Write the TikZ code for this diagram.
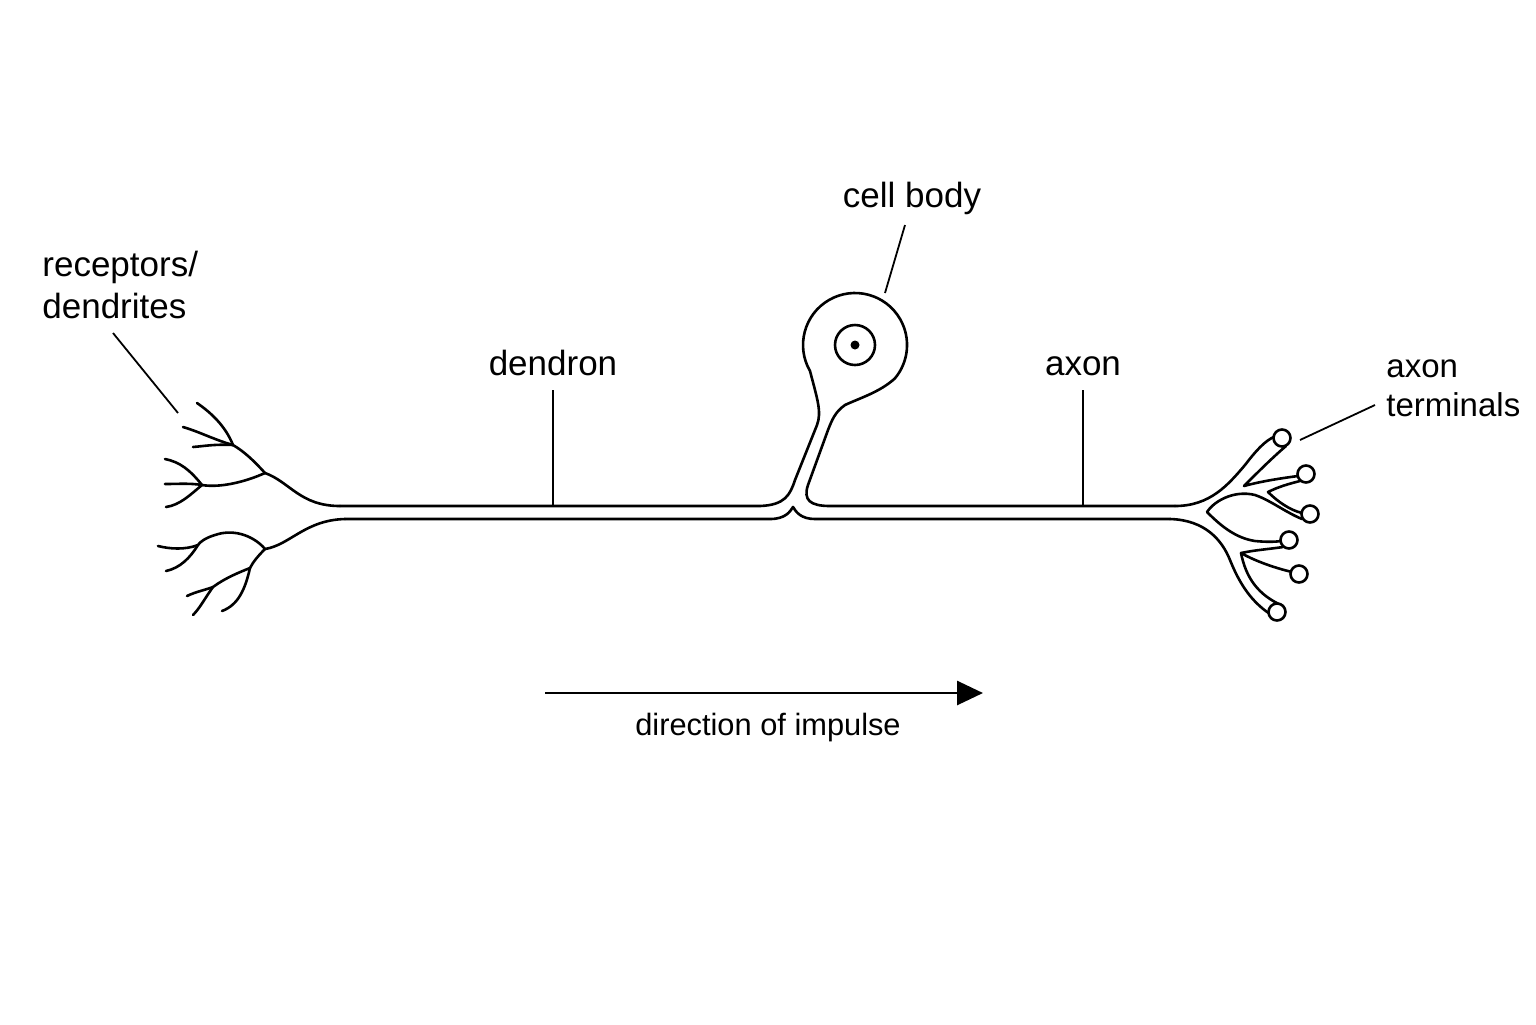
\documentclass[tikz,border=0pt]{standalone}
\usepackage{fontspec}
\setmainfont{Liberation Sans}
\usetikzlibrary{arrows.meta}
\begin{document}
\begin{tikzpicture}[x=0.5pt,y=-0.5pt,
  nv/.style={line width=1.3pt,line cap=round,line join=round},
  ptr/.style={line width=0.9pt},
  lab/.style={font=\fontsize{17.5}{21}\selectfont,align=left,inner sep=0pt},
  term/.style={circle,draw,line width=1.3pt,fill=white,minimum size=8.5pt,inner sep=0pt}]
\useasboundingbox (0,0) rectangle (1536,1024);
% cell body and upper contour
\draw[nv] (340,506) -- (760,506) .. controls (785,505) and (790,495) .. (795,480)
  -- (817,425) .. controls (822,412) and (817,398) .. (810,371)
  arc[start angle=150,end angle=400,radius=52]
  .. controls (880,392) and (860,398) .. (845,405) .. controls (835,412) and (832,420) .. (828,430)
  -- (808,485) .. controls (803,500) and (810,506) .. (830,506) -- (1175,506);
\draw[nv] (855,345) circle[radius=20];
\fill (855,345) circle[radius=4.5];
% lower contour
\draw[nv] (345,519) -- (770,519) .. controls (785,519) and (790,512) .. (793,507)
  .. controls (796,512) and (801,519) .. (815,519) -- (1170,519);
% left dendrites
\draw[nv] (340,506) .. controls (300,506) and (290,482) .. (265,473);
\draw[nv] (265,473) .. controls (255,462) and (245,452) .. (233,445) .. controls (225,425) and (210,412) .. (197,403);
\draw[nv] (233,445) .. controls (215,440) and (200,432) .. (183,427);
\draw[nv] (233,445) .. controls (215,444) and (205,446) .. (193,447);
\draw[nv] (265,473) .. controls (245,482) and (220,488) .. (202,485);
\draw[nv] (202,485) .. controls (190,470) and (180,462) .. (165,459);
\draw[nv] (202,485) .. controls (190,483) and (178,484) .. (165,484);
\draw[nv] (202,485) .. controls (190,495) and (180,505) .. (166,507);
\draw[nv] (345,519) .. controls (305,520) and (290,545) .. (265,549);
\draw[nv] (265,549) .. controls (255,537) and (235,528) .. (215,535) .. controls (205,538) and (200,542) .. (198,545);
\draw[nv] (198,545) .. controls (185,550) and (170,549) .. (158,546);
\draw[nv] (198,545) .. controls (190,558) and (180,568) .. (166,571);
\draw[nv] (265,549) .. controls (258,556) and (253,562) .. (250,568) .. controls (240,572) and (225,578) .. (213,587) .. controls (205,598) and (200,608) .. (193,615);
\draw[nv] (213,587) .. controls (205,590) and (195,592) .. (187,596);
\draw[nv] (250,568) .. controls (245,590) and (238,605) .. (222,611);
% axon terminals
\draw[nv] (1175,506) .. controls (1210,506) and (1228,485) .. (1245,465) .. controls (1255,452) and (1265,440) .. (1276,436);
\draw[nv] (1286,446) .. controls (1272,458) and (1258,472) .. (1244,486) .. controls (1262,481) and (1283,478) .. (1298,476);
\draw[nv] (1300,481) .. controls (1288,484) and (1278,487) .. (1268,492) .. controls (1278,502) and (1290,510) .. (1302,513);
\draw[nv] (1302,519) .. controls (1285,512) and (1270,500) .. (1255,495) .. controls (1235,490) and (1215,500) .. (1207,512)
  .. controls (1220,525) and (1235,538) .. (1255,541) .. controls (1265,542) and (1275,542) .. (1281,541);
\draw[nv] (1283,547) .. controls (1270,549) and (1255,550) .. (1241,553) .. controls (1255,561) and (1275,568) .. (1292,572);
\draw[nv] (1241,553) .. controls (1246,578) and (1258,595) .. (1283,606);
\draw[nv] (1170,519) .. controls (1205,520) and (1222,540) .. (1230,560) .. controls (1240,585) and (1252,602) .. (1270,614);
\node[term] (t1) at (1282,438) {};
\node[term] (t2) at (1306,474) {};
\node[term] (t3) at (1310,514) {};
\node[term] (t4) at (1289,540) {};
\node[term] (t5) at (1299,574) {};
\node[term] (t6) at (1277,612) {};
% labels
\node[lab,anchor=west] (rec) at (42,285) {receptors/\\dendrites};
\coordinate (recp) at (178,413);
\draw[ptr] (113,333) -- (recp);
\node[lab] (den) at (553,363) {dendron};
\coordinate (denp) at (553,506);
\draw[ptr] (553,390) -- (denp);
\node[lab] (cb) at (912,198) {cell body};
\coordinate (cbp) at (885,293);
\draw[ptr] (905,225) -- (cbp);
\node[lab] (ax) at (1083,366) {axon};
\coordinate (axp) at (1083,506);
\draw[ptr] (1083,390) -- (axp);
\node[lab,anchor=west,font=\fontsize{16.5}{19.5}\selectfont] (at) at (1386,388) {axon\\terminals};
\coordinate (atp) at (1375,405);
\draw[ptr] (1300,440) -- (atp);
% arrow
\coordinate (a1) at (545,693);
\coordinate (a2) at (983,693);
\draw[line width=1.4pt,-{Triangle[length=13pt,width=12pt]}] (a1) -- (a2);
\node[lab,font=\fontsize{15.4}{18}\selectfont] (dir) at (768,728) {direction of impulse};
\end{tikzpicture}
\end{document}
